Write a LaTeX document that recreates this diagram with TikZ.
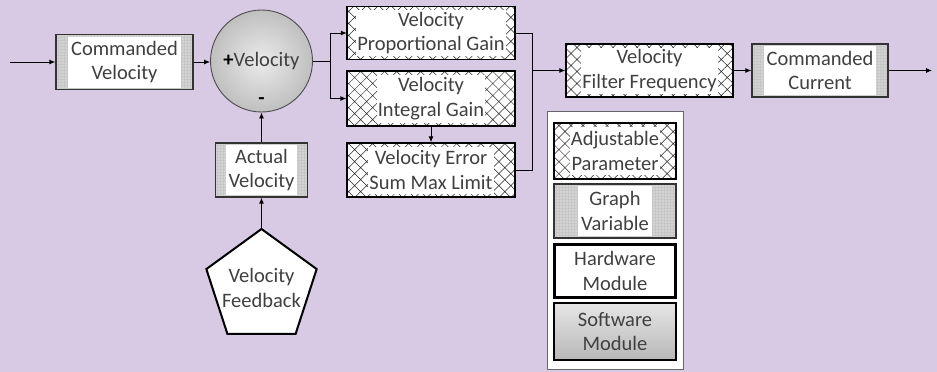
\documentclass[tikz,border=0pt]{standalone}
\usepackage{fontspec}
\setmainfont{Carlito}
\usetikzlibrary{arrows.meta,patterns.meta,shapes.geometric}
\definecolor{bg}{RGB}{216,201,228}
\definecolor{txt}{RGB}{64,64,64}
\begin{document}
\begin{tikzpicture}[x=1pt,y=-1pt,
  every node/.style={font=\fontsize{20.5}{24.5}\selectfont, text=txt, align=center},
  arr/.style={-{Latex[length=6pt,width=5pt]}, line width=0.9pt},
  ln/.style={line width=0.9pt},
  adjbox/.style={draw=black, line width=1.3pt, preaction={fill=white},
    pattern={Hatch[angle=45,distance=8.5pt,line width=0.5pt]}, pattern color=black!85,
    inner sep=0pt},
  graphbox/.style={draw=black!80, line width=1.3pt, preaction={fill=black!22},
    pattern={Dots[distance=3pt,radius=0.7pt]}, pattern color=white, inner sep=0pt},
  wtext/.style={fill=white, inner xsep=1pt, inner ysep=0pt},
  hwbox/.style={draw=black, line width=3pt, fill=white, inner sep=0pt},
  swbox/.style={draw=black, line width=1.3pt, top color=black!10, bottom color=black!28, inner sep=0pt},
]
\useasboundingbox[fill=bg] (0,0) rectangle (937,372);

% main blocks
\node[graphbox, minimum width=137pt, minimum height=55pt] (cv) at (124.5,62) {};
\node[wtext, minimum height=51pt, inner xsep=3pt] (cvt) at (cv) {Commanded\\Velocity};

\node[circle, draw=black!70, line width=0.9pt, inner color=black!8, outer color=black!25,
      minimum size=102pt, inner sep=0pt] (sum) at (261.5,61) {};
\node (sumt) at (sum) {\textcolor{black}{\textbf{+}}Velocity};
\node (minus) at (261.5,101) {\textcolor{black}{\textbf{-}}};

\node[adjbox, minimum width=168pt, minimum height=53pt] (pg) at (431,33) {};
\node[wtext, minimum height=46pt] (pgt) at (pg) {Velocity\\Proportional Gain};

\node[adjbox, minimum width=168pt, minimum height=55pt] (ig) at (431,98.5) {};
\node[wtext, minimum height=48pt] (igt) at (ig) {Velocity\\Integral Gain};

\node[adjbox, minimum width=168pt, minimum height=54pt] (es) at (431,170) {};
\node[wtext, minimum height=47pt] (est) at (es) {Velocity Error\\Sum Max Limit};

\node[adjbox, minimum width=167pt, minimum height=53pt] (ff) at (649.5,70.5) {};
\node[wtext, minimum height=46pt] (fft) at (ff) {Velocity\\Filter Frequency};

\node[graphbox, minimum width=136pt, minimum height=53pt] (cc) at (820,70.5) {};
\node[wtext, minimum height=49pt, inner xsep=3pt] (cct) at (cc) {Commanded\\Current};

\node[graphbox, minimum width=92pt, minimum height=54pt] (av) at (261.5,170) {};
\node[wtext, minimum height=50pt, inner xsep=3pt] (avt) at (av) {Actual\\Velocity};

\node[regular polygon, regular polygon sides=5, draw=black, line width=2pt, fill=white,
      minimum size=116pt, inner sep=0pt] (fb) at (261.5,287) {};
\node (fbt) at (261.5,288) {Velocity\\Feedback};

% legend
\node[draw=black!60, line width=0.9pt, fill=white, minimum width=136pt, minimum height=258pt,
      inner sep=0pt] (leg) at (615,240) {};
\node[adjbox, minimum width=122pt, minimum height=56pt] (ladj) at (615,151) {};
\node[wtext, minimum height=48pt] (ladjt) at (ladj) {Adjustable\\Parameter};
\node[graphbox, minimum width=122pt, minimum height=54pt] (lgv) at (615,211) {};
\node[wtext, minimum height=50pt, inner xsep=3pt] (lgvt) at (lgv) {Graph\\Variable};
\node[hwbox, minimum width=121pt, minimum height=53pt] (lhw) at (615,271) {Hardware\\Module};
\node[swbox, minimum width=122pt, minimum height=57pt] (lsw) at (615,331.5) {Software\\Module};

% connectors
\coordinate (in) at (10,62);
\coordinate (split) at (330,61);
\coordinate (merge) at (532,70.5);
\coordinate (out) at (932,70.5);

\draw[arr] (in) -- (cv.west);
\draw[arr] (cv.east) -- (cv.east -| sum.west);
\draw[ln] (sum.east) -- (split);
\draw[arr] (split) |- (pg.west);
\draw[arr] (split) |- (ig.west);
\draw[arr] (ig.south) -- (es.north);
\draw[ln] (pg.east) -| (merge);
\draw[ln] (es.east) -| (merge);
\draw[arr] (merge) -- (ff.west);
\draw[arr] (ff.east) -- (cc.west);
\draw[arr] (cc.east) -- (out);
\draw[arr] (av.north) -- (sum.south);
\draw[arr] (fb.corner 1) -- (av.south);
\end{tikzpicture}
\end{document}
